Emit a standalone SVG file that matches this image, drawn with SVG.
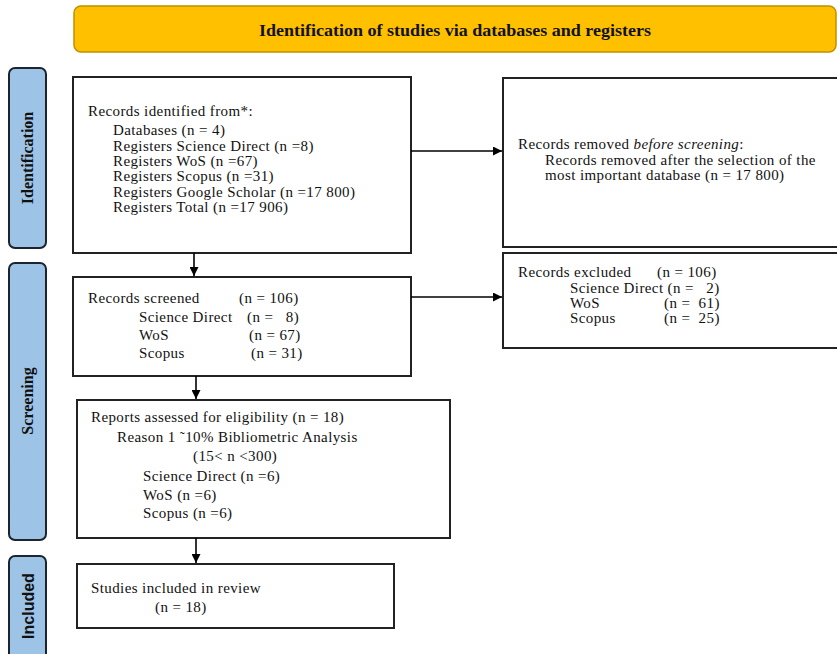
<svg xmlns="http://www.w3.org/2000/svg" width="837" height="654" viewBox="0 0 837 654">
<style>
.box{fill:#fff;stroke:#222;stroke-width:2}
.side{fill:#9DC3E6;stroke:#1c2430;stroke-width:2}
.t{font-family:"Liberation Serif","Times New Roman",serif;font-size:15px;letter-spacing:0.4px;fill:#111}
.sl{font-family:"Liberation Serif","Times New Roman",serif;font-size:16px;font-weight:bold;fill:#111}
.conn{stroke:#000;stroke-width:1.6;fill:none}
</style>
<defs>
<marker id="ah" viewBox="0 0 10 10" refX="10" refY="5" markerWidth="9" markerHeight="9" markerUnits="userSpaceOnUse" orient="auto">
<path d="M0,0 L10,5 L0,10 z" fill="#000"/>
</marker>
</defs>
<rect width="837" height="654" fill="#fff"/>

<g id="banner">
<rect x="74" y="6" width="762" height="46" rx="7" fill="#FFC000" stroke="#BF9000" stroke-width="1.5"/>
<text x="455" y="36" text-anchor="middle" class="sl" font-size="18" textLength="392" lengthAdjust="spacingAndGlyphs">Identification of studies via databases and registers</text>
</g>

<g id="label-identification">
<rect class="side" x="9" y="68" width="37" height="180" rx="6"/>
<text class="sl" transform="translate(33,158) rotate(-90)" text-anchor="middle">Identification</text>
</g>
<g id="label-screening">
<rect class="side" x="9" y="263" width="37" height="277" rx="6"/>
<text class="sl" transform="translate(33,401) rotate(-90)" text-anchor="middle">Screening</text>
</g>
<g id="label-included">
<rect class="side" x="9" y="556" width="37" height="120" rx="6"/>
<text transform="translate(34,606) rotate(-90)" text-anchor="middle" font-family="Liberation Sans, Arial, sans-serif" font-weight="bold" font-size="16" fill="#111">Included</text>
</g>

<g id="records-identified">
<rect class="box" x="73" y="77" width="338" height="176"/>
<text class="t" x="88" y="116">Records identified from*:</text>
<text class="t" x="113" y="135">Databases (n = 4)</text>
<text class="t" x="113" y="151">Registers Science Direct (n =8)</text>
<text class="t" x="113" y="166">Registers WoS (n =67)</text>
<text class="t" x="113" y="181">Registers Scopus (n =31)</text>
<text class="t" x="113" y="197">Registers Google Scholar (n =17 800)</text>
<text class="t" x="113" y="212">Registers Total (n =17 906)</text>
</g>

<g id="records-removed">
<rect class="box" x="503" y="78" width="350" height="169"/>
<text class="t" x="518" y="149">Records removed <tspan font-style="italic">before screening</tspan>:</text>
<text class="t" x="545" y="165">Records removed after the selection of the</text>
<text class="t" x="545" y="180">most important database (n = 17 800)</text>
</g>

<g id="records-screened">
<rect class="box" x="73" y="277" width="338" height="99"/>
<text class="t" x="88" y="303">Records screened<tspan x="239">(n = 106)</tspan></text>
<text class="t" x="139" y="322" xml:space="preserve">Science Direct<tspan x="247">(n =   8)</tspan></text>
<text class="t" x="139" y="340">WoS<tspan x="249">(n = 67)</tspan></text>
<text class="t" x="139" y="358">Scopus<tspan x="251">(n = 31)</tspan></text>
</g>

<g id="records-excluded">
<rect class="box" x="503" y="253" width="350" height="95"/>
<text class="t" x="518" y="277">Records excluded<tspan x="657">(n = 106)</tspan></text>
<text class="t" x="570" y="293" xml:space="preserve">Science Direct (n =   2)</text>
<text class="t" x="570" y="308" xml:space="preserve">WoS<tspan x="664">(n =  61)</tspan></text>
<text class="t" x="570" y="323" xml:space="preserve">Scopus<tspan x="664">(n =  25)</tspan></text>
</g>

<g id="reports-assessed">
<rect class="box" x="77" y="400" width="373" height="138"/>
<text class="t" x="91" y="422">Reports assessed for eligibility (n = 18)</text>
<text class="t" x="117" y="442">Reason 1 ˜10% Bibliometric Analysis</text>
<text class="t" x="193" y="461">(15&lt; n &lt;300)</text>
<text class="t" x="143" y="481">Science Direct (n =6)</text>
<text class="t" x="143" y="500">WoS (n =6)</text>
<text class="t" x="143" y="518">Scopus (n =6)</text>
</g>

<g id="studies-included">
<rect class="box" x="77" y="564" width="317" height="64"/>
<text class="t" x="91" y="593">Studies included in review</text>
<text class="t" x="155" y="612">(n = 18)</text>
</g>

<g id="connectors">
<line class="conn" x1="411" y1="151" x2="502" y2="151" marker-end="url(#ah)"/>
<line class="conn" x1="194" y1="253" x2="194" y2="276" marker-end="url(#ah)"/>
<line class="conn" x1="411" y1="297" x2="502" y2="297" marker-end="url(#ah)"/>
<line class="conn" x1="196" y1="376" x2="196" y2="399" marker-end="url(#ah)"/>
<line class="conn" x1="196" y1="538" x2="196" y2="563" marker-end="url(#ah)"/>
</g>
</svg>
